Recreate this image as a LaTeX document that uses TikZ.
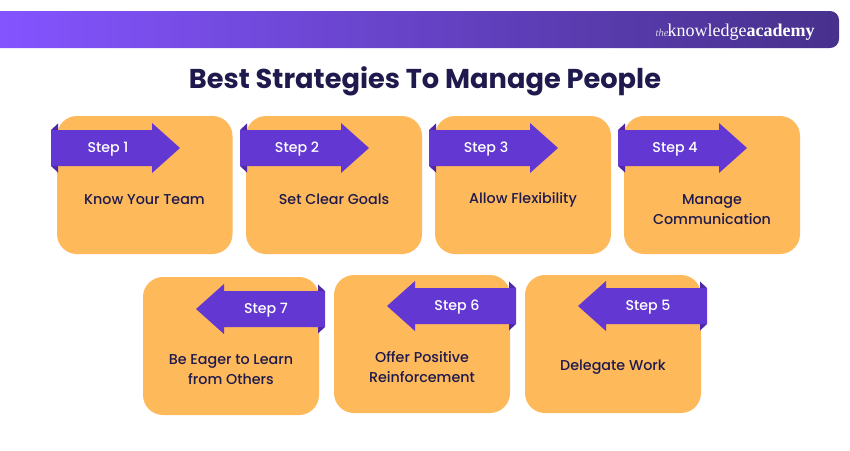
\documentclass[tikz,border=0pt]{standalone}
\usepackage{fontspec}
\setmainfont{Poppins}
\newfontfamily\medfont{Poppins Medium}
\newfontfamily\logofont{Liberation Serif}
\definecolor{cardc}{HTML}{FDB95A}
\definecolor{arrowc}{HTML}{6338D2}
\definecolor{foldc}{HTML}{4F28A8}
\definecolor{inkc}{HTML}{1F1A4D}
\definecolor{barl}{HTML}{8454FF}
\definecolor{barm}{HTML}{633EC4}
\definecolor{barr}{HTML}{47318C}
\tikzset{
  card/.style={fill=cardc,draw=none,rounded corners=20pt},
  cardtext/.style={text=inkc,font=\medfont\fontsize{14.3}{20}\selectfont,align=center,inner sep=0pt},
  steptext/.style={text=white,font=\medfont\fontsize{14.2}{16}\selectfont,inner sep=0pt},
  arrowfill/.style={fill=arrowc,draw=none},
  foldfill/.style={fill=foldc,draw=none},
}
% right arrow: #1 = left x, #2 = centre y, #3 = name, #4 = label
\newcommand{\rightstep}[4]{%
  \fill[foldfill] (#1+7,#2-24.5) -- (#1,#2-18) -- (#1+7,#2-18) -- cycle;
  \fill[foldfill] (#1+7,#2+24.5) -- (#1,#2+18) -- (#1+7,#2+18) -- cycle;
  \fill[arrowfill] (#1,#2-18) -- (#1+101,#2-18) -- (#1+101,#2-25) -- (#1+129,#2) -- (#1+101,#2+25) -- (#1+101,#2+18) -- (#1,#2+18) -- cycle;
  \node[steptext] (#3) at (#1+57,#2+1.5) {#4};
}
% left arrow: #1 = right x, #2 = centre y, #3 = name, #4 = label
\newcommand{\leftstep}[4]{%
  \fill[foldfill] (#1-7,#2-24.5) -- (#1,#2-18) -- (#1-7,#2-18) -- cycle;
  \fill[foldfill] (#1-7,#2+24.5) -- (#1,#2+18) -- (#1-7,#2+18) -- cycle;
  \fill[arrowfill] (#1,#2-18) -- (#1-101,#2-18) -- (#1-101,#2-25) -- (#1-129,#2) -- (#1-101,#2+25) -- (#1-101,#2+18) -- (#1,#2+18) -- cycle;
  \node[steptext] (#3) at (#1-59,#2+1) {#4};
}
\begin{document}
\begin{tikzpicture}[x=1pt,y=-1pt]
\useasboundingbox (0,0) rectangle (850,450);
\fill[white] (0,0) rectangle (850,450);
% header bar
\shade[left color=barl,middle color=barm,right color=barr,rounded corners=0pt]
  (0,11) -- (830,11) to[out=0,in=90] (839,20) -- (839,39) to[out=-90,in=0] (830,48) -- (0,48) -- cycle;
\node[anchor=base west,inner sep=0pt,text=white!78!barr,font=\logofont\itshape\fontsize{10.5}{10}\selectfont] (logoa) at (655.5,36) {the};
\node[anchor=base west,inner sep=0pt,text=white,font=\logofont\fontsize{18}{18}\selectfont] (logob) at (667.5,36) {knowledge};
\node[anchor=base west,inner sep=0pt,text=white,font=\logofont\bfseries\fontsize{18}{18}\selectfont] (logoc) at (746.5,36) {academy};
% title
\node[text=inkc,inner sep=0pt,font=\bfseries\fontsize{27.25}{30}\selectfont] (title) at (425,81) {Best Strategies To Manage People};
% cards, top row
\fill[card] (57,116) rectangle (232.5,254);
\fill[card] (246,116) rectangle (422,254);
\fill[card] (435,116) rectangle (611,254);
\fill[card] (624,116) rectangle (800,254);
% cards, bottom row
\fill[card] (143,277) rectangle (319,415);
\fill[card] (334,275) rectangle (510,413);
\fill[card] (525,275) rectangle (701,413);
% arrows
\rightstep{51}{148}{s1}{Step 1}
\rightstep{240}{148}{s2}{Step 2}
\rightstep{429}{148}{s3}{Step 3}
\rightstep{618}{148}{s4}{Step 4}
\leftstep{325}{309}{s7}{Step 7}
\leftstep{516}{306}{s6}{Step 6}
\leftstep{707}{306}{s5}{Step 5}
% card labels
\node[cardtext] (c1) at (144.5,199.5) {Know Your Team};
\node[cardtext] (c2) at (334,199.5) {Set Clear Goals};
\node[cardtext] (c3) at (523,199.5) {Allow Flexibility};
\node[cardtext] (c4) at (712,209.5) {Manage\\Communication};
\node[cardtext] (c7) at (231,370) {Be Eager to Learn\\from Others};
\node[cardtext] (c6) at (422,367) {Offer Positive\\Reinforcement};
\node[cardtext] (c5) at (613,367.5) {Delegate Work};
\end{tikzpicture}
\end{document}
